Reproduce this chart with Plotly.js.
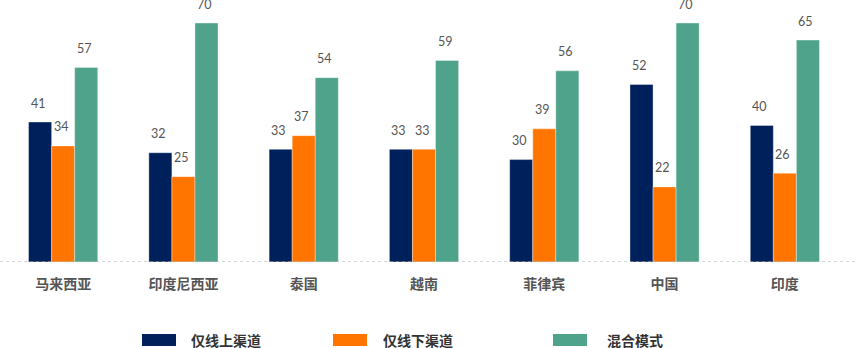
<!DOCTYPE html>
<html>
<head>
<meta charset="utf-8">
<script src="https://cdn.plot.ly/plotly-3.0.1.min.js"></script>
<style>html,body{margin:0;padding:0;background:#fff;}#chart{width:857px;height:348px;}</style>
</head>
<body>
<div id="chart"></div>
<script>
// ---- data ----
const categories = ["马来西亚", "印度尼西亚", "泰国", "越南", "菲律宾", "中国", "印度"];
const seriesNames = ["仅线上渠道", "仅线下渠道", "混合模式"];
const onlineOnly  = [41, 32, 33, 33, 30, 52, 40];
const offlineOnly = [34, 25, 37, 33, 39, 22, 26];
const hybrid      = [57, 70, 54, 59, 56, 70, 65];
const colors = ["#00205C", "#FF7500", "#4FA38B"];

// ---- layout geometry ----
const W = 857, H = 348;
const M = {l: 3, r: 12, t: 23, b: 86};
const pw = W - M.l - M.r, ph = H - M.t - M.b;
const px2x = p => (p - M.l) / pw;
const py2y = p => (H - M.b - p) / ph;
const barPx = pw / categories.length * 0.575 / 3;

const allSeries = [onlineOnly, offlineOnly, hybrid];
const traces = allSeries.map((vals, i) => ({
  type: "bar",
  name: seriesNames[i],
  x: categories,
  y: vals,
  marker: {color: colors[i], line: {color: "rgba(255,255,255,0.45)", width: 0.8}},
  hoverinfo: "x+y+name"
}));

const annotations = [];
allSeries.forEach((vals, i) => {
  vals.forEach((v, j) => {
    annotations.push({
      x: categories[j], y: v, xref: "x", yref: "y",
      text: String(v), showarrow: false,
      xshift: (i - 1) * barPx - 2, yshift: 19, yanchor: "middle",
      font: {family: "Lato, 'Open Sans', sans-serif", size: 12.5, color: "#555"}
    });
  });
});

// custom legend
const legendX = [142, 333, 553];
const legendTextX = [189, 381, 605];
const shapes = [{
  type: "line", xref: "paper", yref: "y",
  x0: px2x(0), x1: px2x(W), y0: 0, y1: 0,
  line: {color: "#aaaaaa", width: 1, dash: "dot"}
}];
seriesNames.forEach((n, i) => {
  shapes.push({
    type: "rect", xref: "paper", yref: "paper",
    x0: px2x(legendX[i]), x1: px2x(legendX[i] + 34),
    y0: py2y(346), y1: py2y(334),
    fillcolor: colors[i], line: {width: 0}
  });
  annotations.push({
    xref: "paper", yref: "paper", x: px2x(legendTextX[i]), y: py2y(340),
    xanchor: "left", yanchor: "middle", showarrow: false, text: n,
    font: {family: "'Noto Sans CJK SC', sans-serif", size: 14, color: "#333", weight: "bold"}
  });
});

const layout = {
  width: W, height: H,
  margin: M,
  paper_bgcolor: "#fff", plot_bgcolor: "#fff",
  barmode: "group", bargap: 0.425, bargroupgap: 0,
  showlegend: false,
  xaxis: {
    type: "category", range: [-0.5, categories.length - 0.5],
    showgrid: false, zeroline: false, showline: false,
    ticks: "outside", ticklen: 9, tickcolor: "rgba(0,0,0,0)",
    tickfont: {family: "'Noto Sans CJK SC', sans-serif", size: 14, color: "#555", weight: "bold"},
    fixedrange: true
  },
  yaxis: {
    range: [0, 70], visible: false, showgrid: false, zeroline: false, fixedrange: true
  },
  shapes: shapes,
  annotations: annotations
};

Plotly.newPlot("chart", traces, layout, {displayModeBar: false, staticPlot: true});
</script>
</body>
</html>
